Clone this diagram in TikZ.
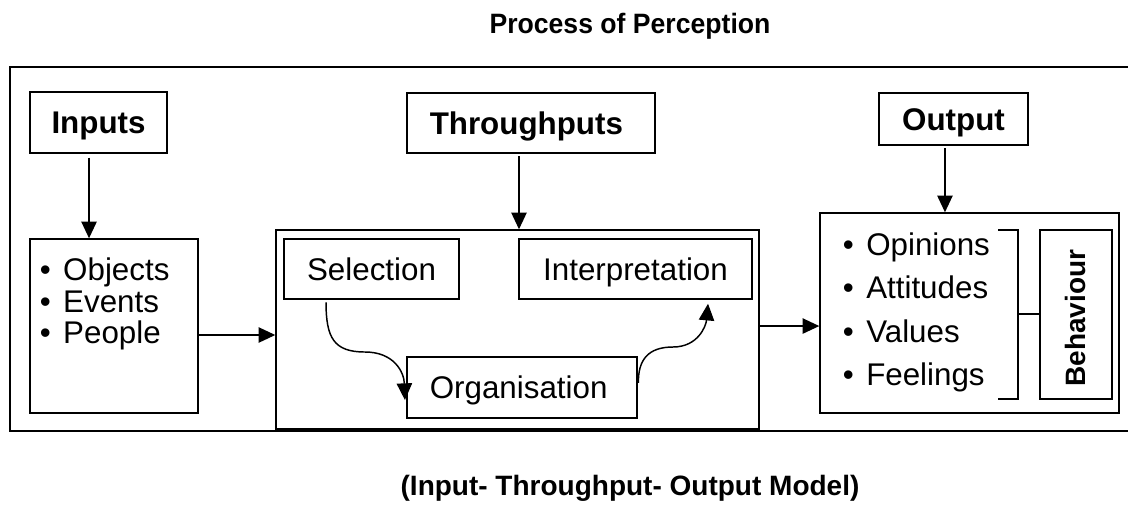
\documentclass[tikz,border=0pt]{standalone}
\usepackage{fontspec}
\setmainfont{Liberation Sans}
\usetikzlibrary{arrows.meta}
\newcommand{\bul}{\makebox[18pt][l]{\hspace*{0.5pt}•}}
\begin{document}
\begin{tikzpicture}[x=0.75pt,y=-0.75pt,
  bx/.style={draw, line width=1.1pt, inner sep=0pt},
  arr/.style={line width=1.1pt, -{Triangle[length=12.5pt,width=11.5pt]}},
  ln/.style={line width=1.1pt},
  body/.style={inner sep=0pt, font=\fontsize{23.5pt}{28pt}\selectfont},
  cbody/.style={body, text height=16.8pt, text depth=0pt},
  bbody/.style={inner sep=0pt, text height=16.8pt, text depth=0pt, font=\fontsize{23.5pt}{28pt}\selectfont\bfseries},
  ttl/.style={inner sep=0pt, font=\fontsize{21pt}{25pt}\selectfont\bfseries},
  item/.style={body, anchor=base west, text height=16.8pt, text depth=4pt}]
\useasboundingbox (0,0) rectangle (1128,508);
\fill[white] (0,0) rectangle (1128,508);
\clip (0,0) rectangle (1128,508);

% titles
\node[ttl, anchor=base] (title) at (630,33) {\scalebox{0.95}[1]{Process of Perception}};
\node[ttl, anchor=base] (cap) at (630,495) {(Input- Throughput- Output Model)};

% outer frame
\draw[line width=1.3pt] (10,67) rectangle (1140,431);

% inputs
\node[bx, bbody, minimum width=137*0.75pt, minimum height=61*0.75pt] (inp) at (98.5,122.5) {Inputs};
\node[bx, minimum width=168*0.75pt, minimum height=174*0.75pt] (inl) at (114,326) {};
\node[item] (ob) at (39,280) {\bul Objects};
\node[item] (ev) at (39,312) {\bul Events};
\node[item] (pe) at (39,343) {\bul People};

% throughputs
\node[bx, bbody, minimum width=248*0.75pt, minimum height=60*0.75pt] (thr) at (531,123) {\hspace*{-7pt}Throughputs};
\node[bx, minimum width=483*0.75pt, minimum height=199*0.75pt] (tp) at (517.5,329.5) {};
\node[bx, cbody, minimum width=175*0.75pt, minimum height=60*0.75pt] (sel) at (371.5,269) {Selection};
\node[bx, cbody, minimum width=233*0.75pt, minimum height=60*0.75pt] (int) at (635.5,269) {Interpretation};
\node[bx, cbody, minimum width=230*0.75pt, minimum height=61*0.75pt] (org) at (522,387.5) {\hspace*{-5pt}Organisation};

% output
\node[bx, bbody, minimum width=149*0.75pt, minimum height=52*0.75pt] (out) at (953.5,119) {Output};
\node[bx, minimum width=299*0.75pt, minimum height=200*0.75pt] (ol) at (969.5,313) {};
\node[item] (op) at (842,255) {\bul Opinions};
\node[item] (at) at (842,298) {\bul Attitudes};
\node[item] (va) at (842,342) {\bul Values};
\node[item] (fe) at (842,385) {\bul Feelings};
\node[bx, minimum width=72*0.75pt, minimum height=169*0.75pt] (beh) at (1076,314.5) {};
\node[ttl, rotate=90] (behtxt) at (1075,318) {Behaviour};
\coordinate (brt) at (998,230);
\coordinate (brb) at (998,399);
\draw[ln] (brt) -- (1018,230) -- (1018,399) -- (brb);
\draw[ln] (1018,314) -- (beh.west |- 1018,314);

% connectors
\draw[arr] ([xshift=-7.1pt,yshift=-3pt]inp.south) -- ([xshift=-7.1pt]inp.south |- inl.north);
\draw[arr] ([xshift=-9pt,yshift=-2pt]thr.south) -- ([xshift=-9pt]thr.south |- tp.north);
\draw[arr] ([xshift=-6.4pt,yshift=-2pt]out.south) -- ([xshift=-6.4pt]out.south |- ol.north);
\draw[arr] ([yshift=-6.75pt]inl.east) -- ([yshift=-6.75pt]inl.east -| tp.west);
\draw[arr] ([yshift=2.6pt]tp.east) -- ([yshift=2.6pt]tp.east -| ol.west);

% curved connectors
\draw[arr] ([xshift=-34.1pt,yshift=-2pt]sel.south) .. controls (326,338) and (334,352) .. (365,352)
  .. controls (394,352) and (404,372) .. ([xshift=-1pt,yshift=-9.4pt]org.west);
\draw[arr] ([xshift=0.5pt,yshift=3.4pt]org.east) .. controls (638,360) and (648,347) .. (673,347)
  .. controls (698,347) and (706,326) .. ([xshift=54.4pt,yshift=-3pt]int.south);
\end{tikzpicture}
\end{document}
